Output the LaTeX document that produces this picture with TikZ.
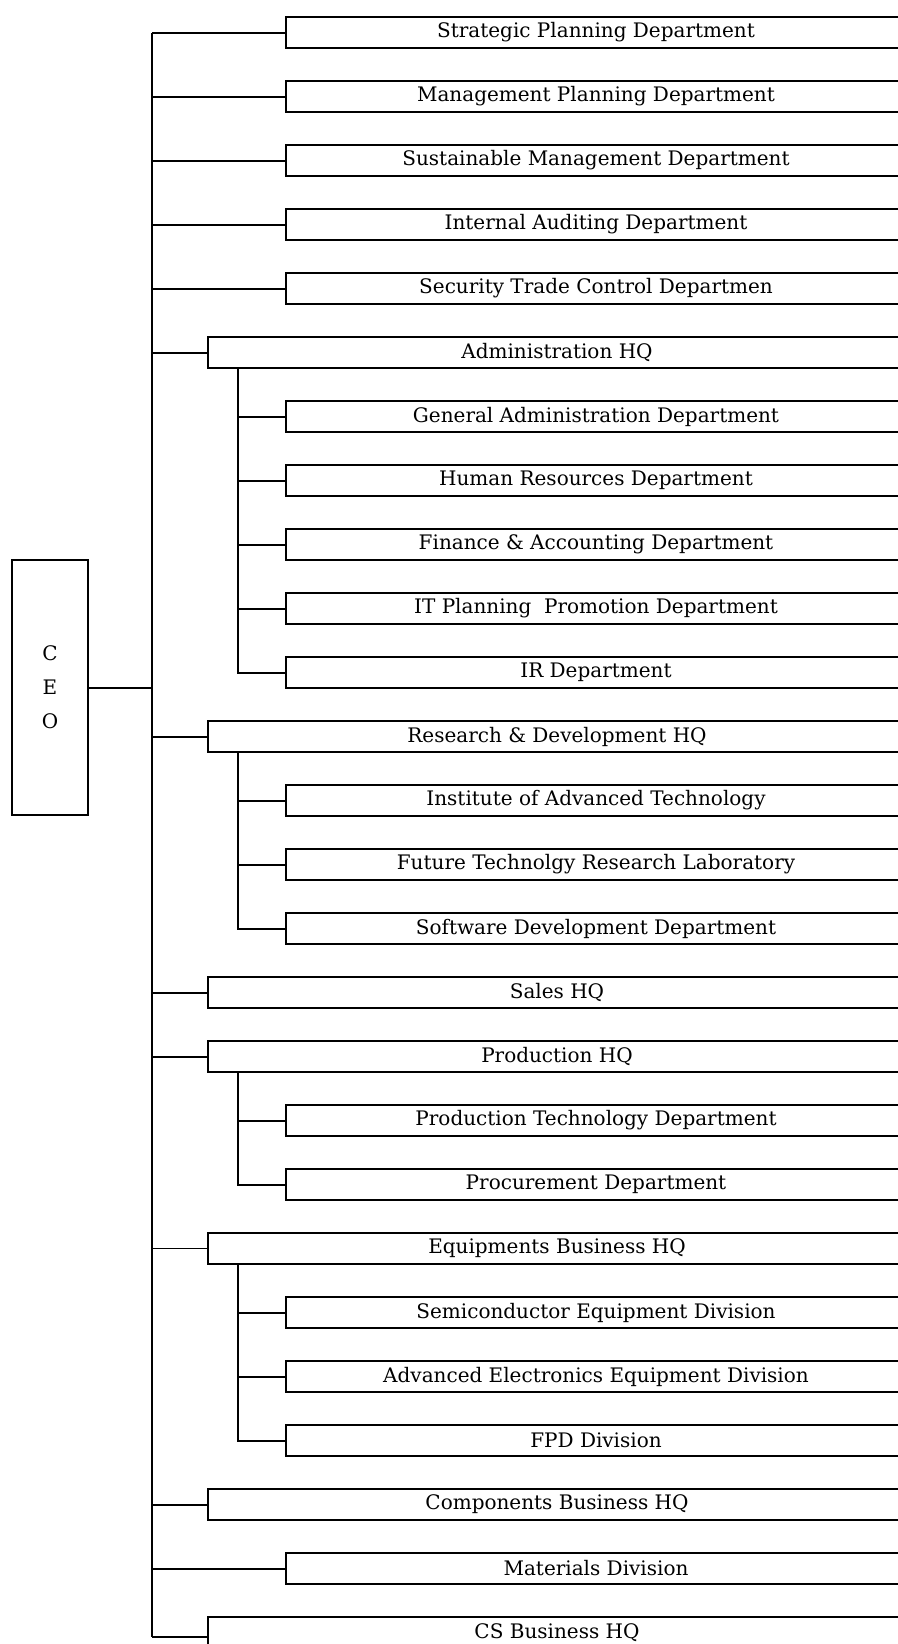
\documentclass[tikz,border=0pt]{standalone}
\usepackage{fontspec}
\setmainfont{DejaVu Serif}

\begin{document}
\begin{tikzpicture}[x=0.5pt,y=-0.5pt,line width=1pt,
  dept/.style={draw,anchor=west,minimum width=310pt,minimum height=15.5pt,inner sep=0pt,
    font=\fontsize{10}{12}\selectfont},
  hq/.style={dept,minimum width=349pt}]
  \useasboundingbox (0,0) rectangle (898,1644);
  \clip (0,0) rectangle (898,1644);
  \node [draw,minimum width=38pt,minimum height=127.5pt,align=center,
    font=\fontsize{10}{17}\selectfont] (ceo) at (50,687.5) {C\\E\\O};
  \coordinate (top) at (152,32.5);
  \coordinate (bot) at (152,1637);
  \node [dept] (sp) at (285,32.5) {Strategic Planning Department};
  \node [dept] (mp) at (285,96.5) {Management Planning Department};
  \node [dept] (sm) at (285,160.5) {Sustainable Management Department};
  \node [dept] (ia) at (285,224.5) {Internal Auditing Department};
  \node [dept] (stc) at (285,288.5) {Security Trade Control Departmen};
  \node [hq] (adm) at (207,352.5) {Administration HQ};
  \node [dept] (ga) at (285,416.5) {General Administration Department};
  \node [dept] (hr) at (285,480.5) {Human Resources Department};
  \node [dept] (fa) at (285,544.5) {Finance \& Accounting Department};
  \node [dept] (itp) at (285,608.5) {IT Planning \ Promotion Department};
  \node [dept] (ir) at (285,672.5) {IR Department};
  \node [hq] (rd) at (207,736.5) {Research \& Development HQ};
  \node [dept] (iat) at (285,800.5) {Institute of Advanced Technology};
  \node [dept] (ftr) at (285,864.5) {Future Technolgy Research Laboratory};
  \node [dept] (sd) at (285,928.5) {Software Development Department};
  \node [hq] (sal) at (207,992.5) {Sales HQ};
  \node [hq] (prd) at (207,1056.5) {Production HQ};
  \node [dept] (pt) at (285,1120.5) {Production Technology Department};
  \node [dept] (pro) at (285,1184.5) {Procurement Department};
  \node [hq] (eq) at (207,1248.5) {Equipments Business HQ};
  \node [dept] (sem) at (285,1312.5) {Semiconductor Equipment Division};
  \node [dept] (aee) at (285,1376.5) {Advanced Electronics Equipment Division};
  \node [dept] (fpd) at (285,1440.5) {FPD Division};
  \node [hq] (cmp) at (207,1504.5) {Components Business HQ};
  \node [dept] (mat) at (285,1568.5) {Materials Division};
  \node [hq] (cs) at (207,1632.5) {CS Business HQ};

  \draw (top)--(bot);
  \draw (ceo.east)--(ceo.east -| top);
  \foreach \n in {sp,mp,sm,ia,stc,adm,rd,sal,prd,cmp,mat}
    \draw (top |- \n.west)--(\n.west);
  \draw [line width=0.5pt](top |- eq.west)--(eq.west);
  \draw (bot)--(cs.west |- bot);

  \foreach \h/\l in {adm/ir,rd/sd,prd/pro,eq/fpd}
    \draw ([xshift=15.5pt]\h.south west)--([xshift=15.5pt]\h.south west |- \l.west)--(\l.west);
  \foreach \h/\n in {adm/ga,adm/hr,adm/fa,adm/itp,rd/iat,rd/ftr,prd/pt,eq/sem,eq/aee}
    \draw ([xshift=15.5pt]\h.south west |- \n.west)--(\n.west);
\end{tikzpicture}
\end{document}
